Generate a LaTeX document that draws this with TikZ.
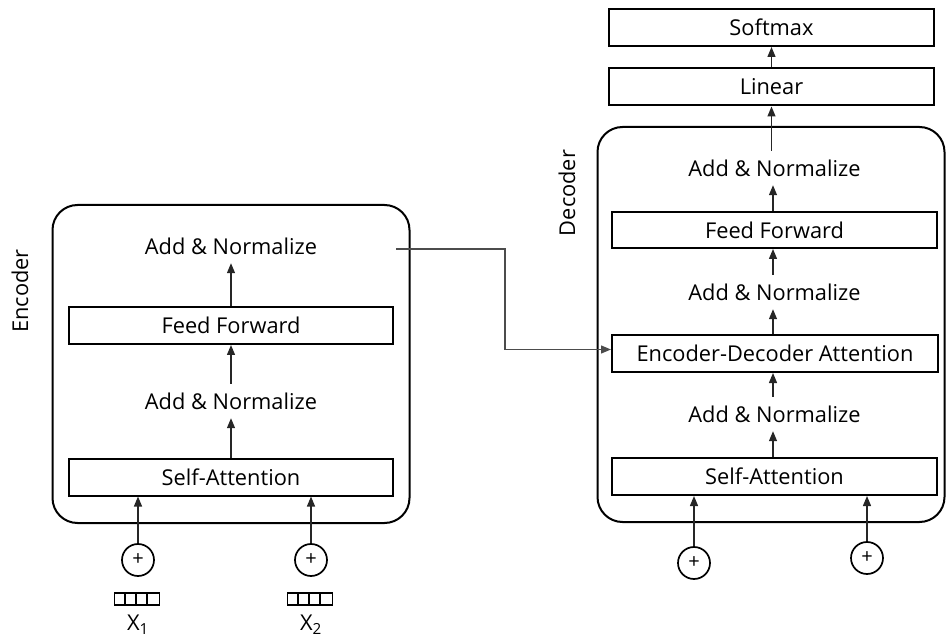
\documentclass[tikz,border=0pt]{standalone}
\usepackage{fontspec}
\setmainfont{Open Sans}
\usetikzlibrary{arrows.meta}
\begin{document}
\begin{tikzpicture}[x=1pt,y=-1pt,
  font=\fontsize{21.8}{25}\selectfont,
  block/.style={draw=black,line width=2pt,minimum width=324pt,minimum height=37pt,inner sep=0pt},
  group/.style={draw=black,line width=2pt,rounded corners=25pt,inner sep=0pt},
  label/.style={inner sep=0pt,minimum height=34pt},
  flow/.style={draw=black!85,line width=1.3pt,-{Triangle[length=10pt,width=8pt]}},
  conn/.style={draw=black!70,line width=1.3pt,-{Triangle[length=10pt,width=8pt]}},
  adder/.style={draw=black,line width=1.7pt,circle,minimum size=32pt,inner sep=0pt,font=\fontsize{20}{22}\selectfont},
  cell/.style={line width=1.8pt},
  side/.style={rotate=90,inner sep=0pt}
]
\useasboundingbox (0,0) rectangle (946,639);

% encoder stack
\node[group,minimum width=357pt,minimum height=318pt] (enc) at (231,364) {};
\node[block] (eSA) at (231,477) {Self-Attention};
\node[label] (eAN1) at (231,401) {Add \& Normalize};
\node[block] (eFF) at (231,325.5) {Feed Forward};
\node[label] (eAN2) at (231,246) {Add \& Normalize};
\node[side] (encname) at (20,291) {Encoder};

% decoder stack
\node[group,minimum width=347pt,minimum height=395pt] (dec) at (771,324.5) {};
\node[block,minimum width=325pt] (dSA) at (774.5,476.5) {Self-Attention};
\node[label] (dAN1) at (774.5,414) {Add \& Normalize};
\node[block,minimum width=326pt] (dED) at (775,353.5) {Encoder-Decoder Attention};
\node[label] (dAN2) at (774.5,292) {Add \& Normalize};
\node[block,minimum width=325pt,minimum height=36pt] (dFF) at (774.5,230) {Feed Forward};
\node[label] (dAN3) at (774.5,168) {Add \& Normalize};
\node[side] (decname) at (567,193) {Decoder};

% output head
\node[block,minimum width=325pt] (lin) at (771.5,87) {Linear};
\node[block,minimum width=325pt] (soft) at (771.5,27.5) {Softmax};

% encoder flow
\draw[flow] (eSA.north) -- (eAN1.south);
\draw[flow] (eAN1.north) -- (eFF.south);
\draw[flow] (eFF.north) -- (eAN2.south);

% decoder flow
\draw[flow] (dSA.north -| 773,0) -- (dAN1.south -| 773,0);
\draw[flow] (dAN1.north -| 773,0) -- (dED.south -| 773,0);
\draw[flow] (dED.north -| 773,0) -- (dAN2.south -| 773,0);
\draw[flow] (dAN2.north -| 773,0) -- (dFF.south -| 773,0);
\draw[flow] (dFF.north -| 773,0) -- (dAN3.south -| 773,0);
\draw[flow] (dAN3.north -| lin.south) -- (lin.south);
\draw[flow] (lin.north) -- (soft.south);

% encoder inputs
\node[adder] (eC1) at (138,560) {+};
\node[adder] (eC2) at (311,560) {+};
\draw[flow] (eC1.north) -- (eC1.north |- eSA.south);
\draw[flow] (eC2.north) -- (eC2.north |- eSA.south);

\foreach \n/\cx/\sub in {g1/137/1,g2/310/2}{
  \node[draw=black,cell,minimum width=45pt,minimum height=12pt,inner sep=0pt] (\n) at (\cx,599) {};
  \foreach \k in {1,2,3}{
    \draw[cell] ([xshift=\k*11.25pt]\n.north west) -- ([xshift=\k*11.25pt]\n.south west);
  }
  \node[inner sep=0pt] (x\sub) at (\cx+1,625) {X\textsubscript{\sub}};
}

% decoder inputs
\node[adder] (dC1) at (694,563) {+};
\node[adder] (dC2) at (867,558) {+};
\draw[flow] (dC1.north) -- (dC1.north |- dSA.south);
\draw[flow] (dC2.north) -- (dC2.north |- dSA.south);

% encoder output into the decoder
\coordinate (encout) at (396,249);
\draw[conn] (encout) -- (505,249) |- ([yshift=4pt]dED.west);
\end{tikzpicture}
\end{document}
